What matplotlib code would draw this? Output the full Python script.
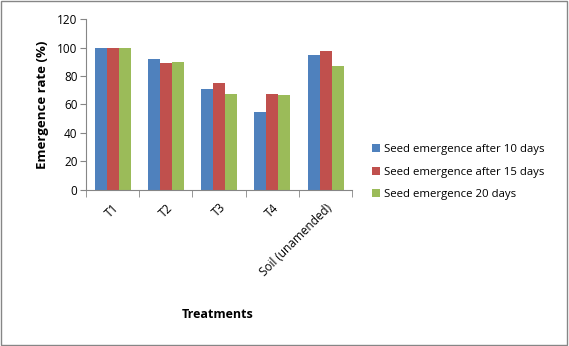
import numpy as np
import matplotlib.pyplot as plt
from matplotlib.patches import Rectangle

# Data
treatments = ["T1", "T2", "T3", "T4", "Soil (unamended)"]
after_10_days = [100, 92, 71, 55, 95]
after_15_days = [100, 89, 75, 67.5, 97.5]
after_20_days = [100, 90, 67.5, 67, 87]
series_names = ["Seed emergence after 10 days",
                "Seed emergence after 15 days",
                "Seed emergence 20 days"]
colors = ["#4F81BD", "#C0504D", "#9BBB59"]

plt.rcParams['font.family'] = ['Open Sans', 'DejaVu Sans']

fig = plt.figure(figsize=(5.69, 3.46), dpi=100)
ax = fig.add_axes([0.151, 0.451, 0.468, 0.494])

x = np.arange(len(treatments))
w = 0.225
for i, vals in enumerate([after_10_days, after_15_days, after_20_days]):
    ax.bar(x + (i - 1) * w, vals, width=w, color=colors[i], label=series_names[i])

ax.set_xlim(-0.5, len(treatments) - 0.5)
ax.set_ylim(0, 120)
ax.set_yticks(range(0, 121, 20))
ax.tick_params(axis='y', labelsize=8.5, length=4, color='#868686', pad=2)

# x ticks between categories
ax.set_xticks(x)
ax.set_xticklabels(treatments, rotation=45, ha='right', rotation_mode='anchor', fontsize=8.5)
ax.tick_params(axis='x', which='major', length=0, pad=8)
ax.set_xticks(np.arange(-0.5, len(treatments), 1), minor=True)
ax.tick_params(axis='x', which='minor', length=5, color='#868686')

for s in ['top', 'right']:
    ax.spines[s].set_visible(False)
for s in ['left', 'bottom']:
    ax.spines[s].set_color('#868686')

ax.set_ylabel("Emergence rate (%)", fontsize=9.5, fontweight='bold', labelpad=6)
fig.text(0.383, 0.092, "Treatments", fontsize=9, fontweight='bold', ha='center', va='center')

ax.legend(loc='center left', bbox_to_anchor=(1.035, 0.105), frameon=False, fontsize=8.2,
          handlelength=0.7, handleheight=0.7, labelspacing=1.05, handletextpad=0.4)

# outer border
fig.patches.append(Rectangle((0.002, 0.003), 0.995, 0.994, transform=fig.transFigure,
                             fill=False, edgecolor='#868686', linewidth=1))

fig.savefig("out.png", dpi=100)
